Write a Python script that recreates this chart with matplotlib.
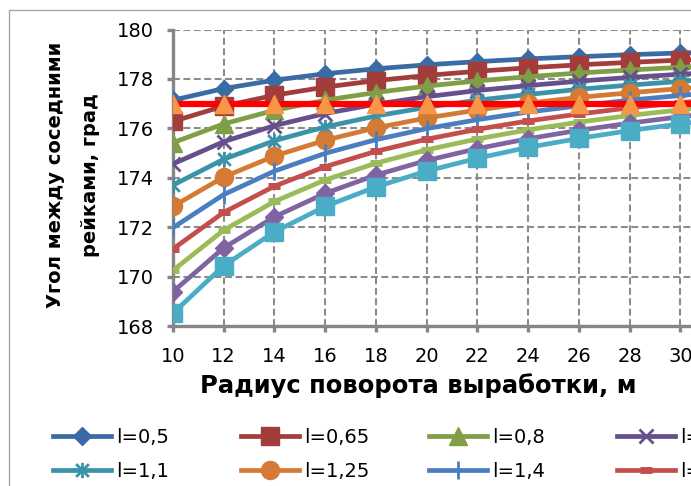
import matplotlib
matplotlib.use('agg')
import matplotlib.pyplot as plt
from matplotlib.path import Path
from matplotlib.patches import Rectangle

# радиус поворота выработки, м
radius = [10, 12, 14, 16, 18, 20, 22, 24, 26, 28, 30, 32]

# угол между соседними рейками, град (для каждой длины рейки l)
angle_050 = [177.14, 177.61, 177.95, 178.21, 178.41, 178.57, 178.70, 178.81, 178.90, 178.98, 179.05, 179.10]
angle_065 = [176.28, 176.90, 177.34, 177.67, 177.93, 178.14, 178.31, 178.45, 178.57, 178.67, 178.76, 178.84]
angle_080 = [175.42, 176.18, 176.73, 177.14, 177.45, 177.71, 177.92, 178.09, 178.24, 178.36, 178.47, 178.57]
angle_095 = [174.56, 175.46, 176.11, 176.60, 176.98, 177.28, 177.53, 177.73, 177.91, 178.06, 178.19, 178.30]
angle_110 = [173.70, 174.75, 175.50, 176.06, 176.50, 176.85, 177.14, 177.37, 177.58, 177.75, 177.90, 178.03]
angle_125 = [172.84, 174.03, 174.88, 175.52, 176.02, 176.42, 176.74, 177.02, 177.25, 177.44, 177.61, 177.76]
angle_140 = [171.98, 173.32, 174.27, 174.99, 175.54, 175.99, 176.35, 176.66, 176.91, 177.14, 177.33, 177.49]
angle_155 = [171.12, 172.60, 173.66, 174.45, 175.07, 175.56, 175.96, 176.30, 176.58, 176.83, 177.04, 177.22]
angle_170 = [170.25, 171.88, 173.04, 173.91, 174.59, 175.13, 175.57, 175.94, 176.25, 176.52, 176.75, 176.96]
angle_185 = [169.39, 171.16, 172.42, 173.37, 174.11, 174.70, 175.18, 175.58, 175.92, 176.21, 176.47, 176.69]
angle_200 = [168.52, 170.44, 171.81, 172.84, 173.63, 174.27, 174.79, 175.23, 175.59, 175.91, 176.18, 176.42]
# предельный угол
angle_limit = [177, 177, 177, 177, 177, 177, 177, 177, 177, 177, 177, 177]

labels = ['l=0,5', 'l=0,65', 'l=0,8', 'l=0,95', 'l=1,1', 'l=1,25',
          'l=1,4', 'l=1,55', 'l=1,7', 'l=1,85', 'l=2']
series = [angle_050, angle_065, angle_080, angle_095, angle_110, angle_125,
          angle_140, angle_155, angle_170, angle_185, angle_200]

asterisk = Path([(-1, -1), (1, 1), (-1, 1), (1, -1), (0, -1.2), (0, 1.2)],
                [Path.MOVETO, Path.LINETO, Path.MOVETO, Path.LINETO, Path.MOVETO, Path.LINETO])

# цвет, маркер, размер маркера, толщина кромки маркера
styles = [
    ('#3B6BA5', 'D', 9, 1),
    ('#A23D3B', 's', 12.5, 1),
    ('#7F9E45', '^', 13, 1),
    ('#664F8D', 'x', 10, 2),
    ('#3A93A9', asterisk, 11, 2),
    ('#D57A35', 'o', 13, 1),
    ('#4A7EC0', '|', 13, 2),
    ('#C44E4B', '_', 9, 5),
    ('#9BBB59', '_', 9, 5),
    ('#8064A2', 'D', 9, 1),
    ('#4BACC6', 's', 12.5, 1),
]

plt.rcParams['font.family'] = ['DejaVu Sans']

fig = plt.figure(figsize=(6.91, 4.86), dpi=100)
ax = fig.add_axes([173 / 691, 1 - 326 / 486, 1 - 173 / 691, (326 - 29.5) / 486])

handles = []
for k, (values, label) in enumerate(zip(series, labels)):
    color, marker, ms, mew = styles[k]
    line, = ax.plot(radius, values, color=color, lw=3.4, marker=marker, markersize=ms,
                    markeredgewidth=mew, markeredgecolor=color, markerfacecolor=color,
                    label=label, zorder=3 + k * 0.1)
    handles.append(line)

ax.plot(radius, angle_limit, color='#FF0000', lw=4.5, zorder=5)
ax.plot(radius, angle_limit, color='#F79646', lw=0, marker='^', markersize=13, zorder=6)

ax.set_xlim(10, 10 + (691 - 173) / 25.37)
ax.set_ylim(168, 180)
ax.set_xticks(range(10, 32, 2))
ax.set_yticks(range(168, 181, 2))
ax.grid(True, color='#8C8C8C', lw=1.5, linestyle=(0, (3.3, 1.7)))
ax.set_axisbelow(True)
for side in ['top', 'right']:
    ax.spines[side].set_visible(False)
for side in ['left', 'bottom']:
    ax.spines[side].set_color('#868686')
    ax.spines[side].set_linewidth(2.4)
ax.tick_params(axis='both', colors='#868686', labelcolor='black', labelsize=14,
               length=4, width=2.4)
ax.tick_params(axis='y', pad=10)
ax.tick_params(axis='x', pad=11)

fig.text(418 / 691, 1 - 386 / 486, 'Радиус поворота выработки, м', ha='center', va='center',
         fontsize=17.5, fontweight='bold')
fig.text(73 / 691, 1 - 175 / 486, 'Угол между соседними\nрейками, град', rotation=90,
         ha='center', va='center', fontsize=14, fontweight='bold', linespacing=2.05)

# легенда: видны только первые две строки по 4 серии
col_x = [53, 241, 429, 617]
for c in range(4):
    fig.legend(handles=[handles[c], handles[c + 4]], loc='upper left',
               bbox_to_anchor=(col_x[c] / 691, 1 - 428 / 486), frameon=False,
               fontsize=14, borderpad=0, borderaxespad=0, handlelength=3.0,
               handletextpad=0.25, labelspacing=0.75, numpoints=1)

fig.add_artist(Rectangle((9 / 691, -0.1), 1.2, 1.1 - 10 / 486, transform=fig.transFigure,
                         fill=False, edgecolor='#A6A6A6', lw=1))

fig.savefig('out.png', dpi=100)
